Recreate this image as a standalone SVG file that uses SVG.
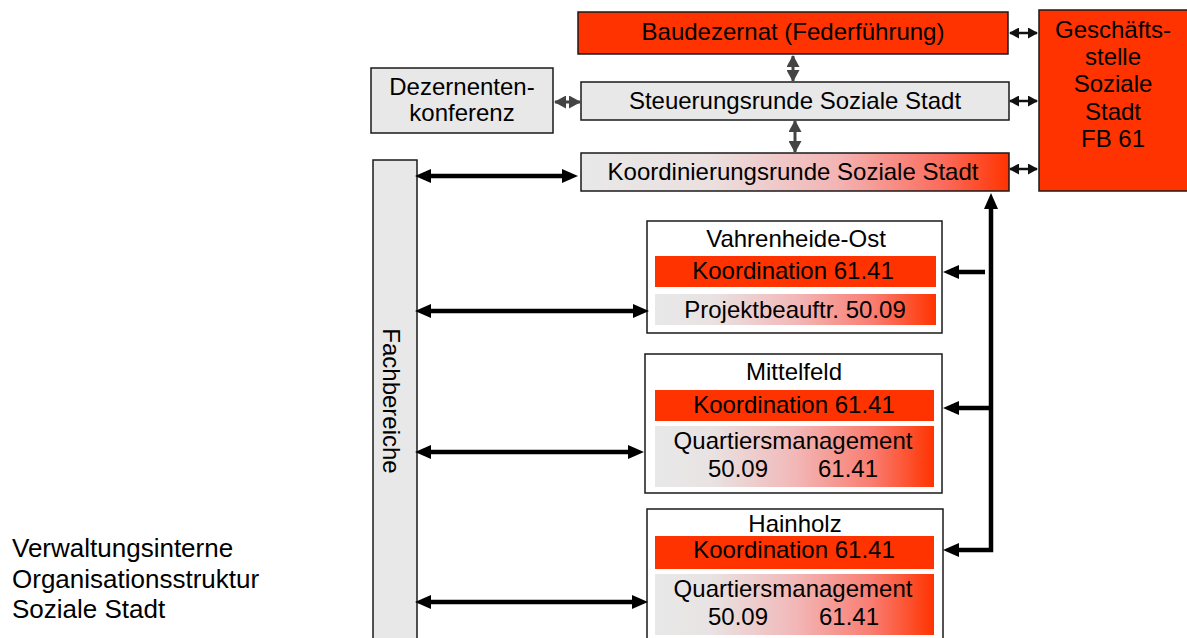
<svg xmlns="http://www.w3.org/2000/svg" width="1187" height="638" viewBox="0 0 1187 638">
  <defs>
    <linearGradient id="grad" x1="0" y1="0" x2="1" y2="0">
      <stop offset="0" stop-color="#e8e8e8"/>
      <stop offset="0.2" stop-color="#e9e3e3"/>
      <stop offset="0.5" stop-color="#f2b8b8"/>
      <stop offset="0.78" stop-color="#f97c70"/>
      <stop offset="1" stop-color="#ff3300"/>
    </linearGradient>
    <linearGradient id="gradK" x1="0" y1="0" x2="1" y2="0">
      <stop offset="0" stop-color="#e8e8e8"/>
      <stop offset="0.3" stop-color="#ebe0e0"/>
      <stop offset="0.6" stop-color="#f3b4b4"/>
      <stop offset="0.85" stop-color="#fb6a5a"/>
      <stop offset="1" stop-color="#ff3300"/>
    </linearGradient>
    <marker id="big" viewBox="0 0 16 14" markerWidth="16" markerHeight="14" refX="4" refY="7" markerUnits="userSpaceOnUse" orient="auto-start-reverse">
      <path d="M0,0 L16,7 L0,14 z" fill="#000"/>
    </marker>
    <marker id="sm" viewBox="0 0 10 11" markerWidth="10" markerHeight="11" refX="9" refY="5.5" markerUnits="userSpaceOnUse" orient="auto-start-reverse">
      <path d="M0,0 L10,5.5 L0,11 z" fill="#111"/>
    </marker>
    <marker id="gr" viewBox="0 0 12 13" markerWidth="12" markerHeight="13" refX="11" refY="6.5" markerUnits="userSpaceOnUse" orient="auto-start-reverse">
      <path d="M0,0 L12,6.5 L0,13 z" fill="#444"/>
    </marker>
    <style>
      text { font-family: "Liberation Sans", Arial, sans-serif; font-size: 24px; fill: #000; }
      .c { text-anchor: middle; }
      .cap { font-size: 26px; }
      .box { stroke: #1a1a1a; stroke-width: 1.5; }
      .red { fill: #ff3300; }
      .gray { fill: #e8e8e8; }
      .white { fill: #ffffff; }
      .thick { stroke: #000; stroke-width: 4.5; fill: none; }
      .thin { stroke: #111; stroke-width: 2.5; fill: none; }
      .dg { stroke: #444; stroke-width: 3; fill: none; }
    </style>
  </defs>

  <g id="baudezernat">
    <rect class="box red" x="578" y="12" width="430" height="42"/>
    <text class="c" x="793" y="40">Baudezernat (Federführung)</text>
  </g>

  <g id="steuerungsrunde">
    <rect class="box gray" x="581" y="82" width="428" height="38"/>
    <text class="c" x="795" y="109">Steuerungsrunde Soziale Stadt</text>
  </g>

  <g id="koordinierungsrunde">
    <rect class="box" fill="url(#gradK)" x="581" y="153" width="428" height="38"/>
    <text class="c" x="793" y="180">Koordinierungsrunde Soziale Stadt</text>
  </g>

  <g id="dezernentenkonferenz">
    <rect class="box gray" x="371" y="68" width="182" height="65"/>
    <text class="c" x="462" y="95">Dezernenten-</text>
    <text class="c" x="462" y="121">konferenz</text>
  </g>

  <g id="geschaeftsstelle">
    <rect class="box red" x="1039" y="10" width="152" height="181"/>
    <text class="c" x="1113" y="38">Geschäfts-</text>
    <text class="c" x="1113" y="65">stelle</text>
    <text class="c" x="1113" y="92">Soziale</text>
    <text class="c" x="1113" y="120">Stadt</text>
    <text class="c" x="1113" y="147">FB 61</text>
  </g>

  <g id="fachbereiche">
    <rect class="box gray" x="373" y="160" width="44" height="490"/>
    <text class="c" transform="translate(383,401) rotate(90)" x="0" y="0">Fachbereiche</text>
  </g>

  <g id="vahrenheide-ost">
    <rect class="box white" x="647" y="221" width="295" height="112"/>
    <text class="c" x="796" y="247">Vahrenheide-Ost</text>
    <rect class="red" x="655" y="256" width="281" height="31"/>
    <text class="c" x="793" y="279">Koordination 61.41</text>
    <rect fill="url(#grad)" x="655" y="294" width="281" height="31"/>
    <text class="c" x="795" y="318">Projektbeauftr. 50.09</text>
  </g>

  <g id="mittelfeld">
    <rect class="box white" x="645" y="354" width="297" height="139"/>
    <text class="c" x="794" y="380">Mittelfeld</text>
    <rect class="red" x="655" y="390" width="279" height="31"/>
    <text class="c" x="794" y="413">Koordination 61.41</text>
    <rect fill="url(#grad)" x="655" y="426" width="279" height="61"/>
    <text class="c" x="793" y="449">Quartiersmanagement</text>
    <text class="c" x="738" y="477">50.09</text>
    <text class="c" x="848" y="477">61.41</text>
  </g>

  <g id="hainholz">
    <rect class="box white" x="647" y="509" width="296" height="140"/>
    <text class="c" x="795" y="532">Hainholz</text>
    <rect class="red" x="655" y="536" width="279" height="33"/>
    <text class="c" x="794" y="558">Koordination 61.41</text>
    <rect fill="url(#grad)" x="655" y="574" width="279" height="61"/>
    <text class="c" x="793" y="597">Quartiersmanagement</text>
    <text class="c" x="738" y="625">50.09</text>
    <text class="c" x="849" y="625">61.41</text>
  </g>

  <g id="caption">
    <text class="cap" x="12" y="557">Verwaltungsinterne</text>
    <text class="cap" x="12" y="588">Organisationsstruktur</text>
    <text class="cap" x="12" y="618">Soziale Stadt</text>
  </g>

  <g id="connectors">
    <line class="thin" x1="1010" y1="33" x2="1037" y2="33" marker-start="url(#sm)" marker-end="url(#sm)"/>
    <line class="thin" x1="1010" y1="101" x2="1037" y2="101" marker-start="url(#sm)" marker-end="url(#sm)"/>
    <line class="thin" x1="1010" y1="169" x2="1037" y2="169" marker-start="url(#sm)" marker-end="url(#sm)"/>
    <line class="dg" x1="793" y1="56" x2="793" y2="81" marker-start="url(#gr)" marker-end="url(#gr)"/>
    <line class="dg" x1="795" y1="121" x2="795" y2="152" marker-start="url(#gr)" marker-end="url(#gr)"/>
    <line class="dg" x1="555" y1="102" x2="580" y2="102" marker-start="url(#gr)" marker-end="url(#gr)"/>
    <line class="thick" x1="427" y1="176" x2="566" y2="176" marker-start="url(#big)" marker-end="url(#big)"/>
    <line class="thick" x1="427" y1="311" x2="637" y2="311" marker-start="url(#big)" marker-end="url(#big)"/>
    <line class="thick" x1="427" y1="452" x2="632" y2="452" marker-start="url(#big)" marker-end="url(#big)"/>
    <line class="thick" x1="427" y1="602" x2="636" y2="602" marker-start="url(#big)" marker-end="url(#big)"/>
    <path class="thick" d="M955,550 H991 V205" marker-start="url(#big)" marker-end="url(#big)"/>
    <path class="thick" d="M991,408 H955" marker-end="url(#big)"/>
    <path class="thick" d="M985,272 H955" marker-end="url(#big)"/>
  </g>
</svg>
